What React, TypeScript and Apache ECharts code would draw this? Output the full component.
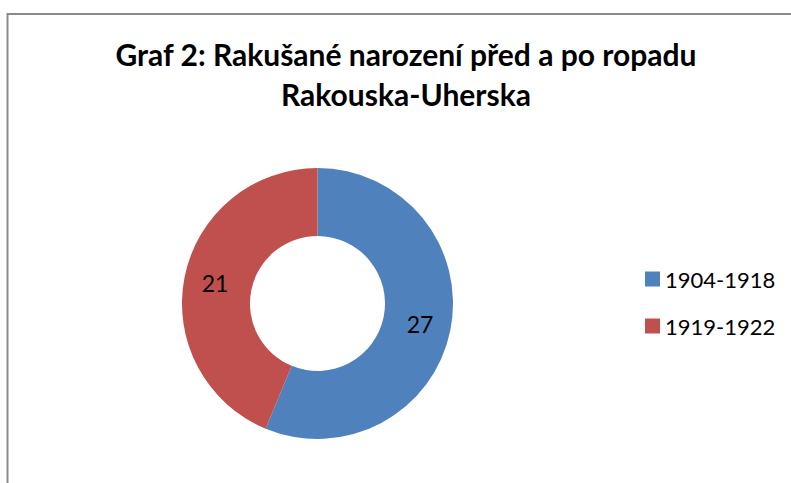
import React, { useEffect, useRef } from "react";
import * as echarts from "echarts";

const titleLines = ["Graf 2: Rakušané narození před a po ropadu", "Rakouska-Uherska"];
const categories = ["1904-1918", "1919-1922"];
const values = [27, 21];
const colors = ["#4F81BD", "#C0504D"];

export default function App() {
  const ref = useRef<HTMLDivElement>(null);
  useEffect(() => {
    if (!ref.current) return;
    const chart = echarts.init(ref.current, null, { renderer: "svg" });
    chart.setOption({
      animation: false,
      backgroundColor: "#ffffff",
      graphic: [
        {
          type: "rect",
          shape: { x: 7.5, y: 14, width: 800, height: 500 },
          style: { fill: "none", stroke: "#8a8a8a", lineWidth: 2 },
          silent: true,
        },
      ],
      title: {
        text: titleLines.join("\n"),
        left: 401,
        top: 29,
        textAlign: "center",
        textStyle: {
          fontFamily: "Lato",
          fontWeight: "bold",
          fontSize: 30,
          lineHeight: 40,
          color: "#000000",
        },
      },
      legend: {
        orient: "vertical",
        left: 640,
        top: 263,
        icon: "rect",
        itemWidth: 15,
        itemHeight: 15,
        itemGap: 25,
        itemTextGap: 7,
        data: categories,
        textStyle: {
          fontFamily: "Lato",
          fontSize: 22,
          lineHeight: 22,
          color: "#000000",
        },
      },
      series: [
        {
          type: "pie",
          center: [317.5, 303.5],
          radius: [67.5, 135.5],
          startAngle: 90,
          clockwise: true,
          avoidLabelOverlap: false,
          label: {
            show: true,
            position: "inside",
            formatter: "{c}",
            fontFamily: "Lato",
            fontSize: 23,
            color: "#000000",
          },
          labelLine: { show: false },
          emphasis: { disabled: true },
          itemStyle: { borderWidth: 0 },
          data: categories.map((c, i) => ({
            name: c,
            value: values[i],
            itemStyle: { color: colors[i] },
          })),
        },
      ],
    });
    return () => chart.dispose();
  }, []);
  return (
    <div
      ref={ref}
      style={{ position: "fixed", left: 0, top: 0, width: 791, height: 483 }}
    />
  );
}
